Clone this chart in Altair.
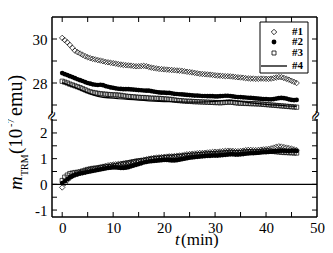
import altair as alt
import pandas as pd

FONT = "Liberation Serif"

# time grid (min)
T_HALF = [0, 0.5, 1, 1.5, 2, 2.5, 3, 3.5, 4, 4.5,
          5, 5.5, 6, 6.5, 7, 7.5, 8, 8.5, 9, 9.5,
          10, 10.5, 11, 11.5, 12, 12.5, 13, 13.5, 14, 14.5,
          15, 15.5, 16, 16.5, 17, 17.5, 18, 18.5, 19, 19.5,
          20, 20.5, 21, 21.5, 22, 22.5, 23, 23.5, 24, 24.5,
          25, 25.5, 26, 26.5, 27, 27.5, 28, 28.5, 29, 29.5,
          30, 30.5, 31, 31.5, 32, 32.5, 33, 33.5, 34, 34.5,
          35, 35.5, 36, 36.5, 37, 37.5, 38, 38.5, 39, 39.5,
          40, 40.5, 41, 41.5, 42, 42.5, 43, 43.5, 44, 44.5,
          45, 45.5, 46]
T_FULL = [0, 1, 2, 3, 4, 5, 6, 7, 8, 9, 10, 11, 12, 13, 14, 15, 16, 17, 18, 19,
          20, 21, 22, 23, 24, 25, 26, 27, 28, 29, 30, 31, 32, 33, 34, 35, 36, 37,
          38, 39, 40, 41, 42, 43, 44, 45, 46]

# upper branch (1e-7 emu)
U1 = [30.05, 29.95, 29.85, 29.73, 29.60, 29.47, 29.40, 29.34, 29.28, 29.22,
      29.17, 29.13, 29.10, 29.07, 29.04, 29.02, 28.99, 28.96, 28.94, 28.92,
      28.90, 28.88, 28.86, 28.84, 28.82, 28.81, 28.80, 28.79, 28.77, 28.76,
      28.76, 28.77, 28.78, 28.76, 28.73, 28.70, 28.68, 28.66, 28.64, 28.63,
      28.62, 28.61, 28.60, 28.59, 28.58, 28.57, 28.56, 28.55, 28.53, 28.51,
      28.50, 28.48, 28.46, 28.44, 28.42, 28.41, 28.40, 28.39, 28.38, 28.37,
      28.35, 28.34, 28.33, 28.32, 28.31, 28.31, 28.30, 28.29, 28.27, 28.26,
      28.25, 28.24, 28.22, 28.21, 28.20, 28.20, 28.19, 28.19, 28.20, 28.20,
      28.19, 28.19, 28.20, 28.22, 28.25, 28.27, 28.26, 28.23, 28.19, 28.15,
      28.10, 28.05, 28.00]
U2 = [28.45, 28.40, 28.36, 28.31, 28.27, 28.22, 28.17, 28.13, 28.09, 28.04,
      28.00, 27.97, 27.94, 27.92, 27.91, 27.92, 27.90, 27.86, 27.83, 27.80,
      27.78, 27.76, 27.74, 27.73, 27.72, 27.72, 27.72, 27.71, 27.70, 27.69,
      27.68, 27.67, 27.66, 27.65, 27.65, 27.63, 27.61, 27.59, 27.57, 27.56,
      27.56, 27.55, 27.55, 27.53, 27.51, 27.50, 27.49, 27.48, 27.47, 27.46,
      27.45, 27.44, 27.43, 27.43, 27.42, 27.41, 27.41, 27.40, 27.40, 27.40,
      27.39, 27.39, 27.40, 27.41, 27.42, 27.42, 27.41, 27.39, 27.37, 27.36,
      27.36, 27.35, 27.34, 27.33, 27.32, 27.31, 27.30, 27.29, 27.28, 27.27,
      27.27, 27.26, 27.26, 27.27, 27.29, 27.31, 27.32, 27.31, 27.29, 27.26,
      27.23, 27.22, 27.23]
U3 = [28.08, 28.04, 28.00, 27.95, 27.91, 27.87, 27.83, 27.79, 27.74, 27.69,
      27.64, 27.60, 27.57, 27.55, 27.53, 27.51, 27.50, 27.49, 27.48, 27.47,
      27.46, 27.46, 27.45, 27.44, 27.42, 27.40, 27.39, 27.38, 27.37, 27.36,
      27.35, 27.34, 27.34, 27.33, 27.32, 27.31, 27.31, 27.30, 27.30, 27.29,
      27.28, 27.27, 27.26, 27.25, 27.23, 27.21, 27.20, 27.19, 27.18, 27.17,
      27.17, 27.16, 27.15, 27.15, 27.14, 27.14, 27.13, 27.13, 27.12, 27.12,
      27.11, 27.11, 27.10, 27.11, 27.12, 27.13, 27.13, 27.12, 27.10, 27.09,
      27.08, 27.08, 27.07, 27.07, 27.06, 27.06, 27.05, 27.05, 27.04, 27.03,
      27.02, 27.01, 27.00, 26.99, 26.98, 26.97, 26.96, 26.95, 26.94, 26.93,
      26.92, 26.91, 26.90]
U4 = [28.02, 27.93, 27.84, 27.74, 27.64, 27.55, 27.46, 27.39, 27.35, 27.33,
      27.31, 27.29, 27.28, 27.26, 27.24, 27.22, 27.21, 27.19, 27.18, 27.17,
      27.16, 27.15, 27.14, 27.14, 27.13, 27.13, 27.13, 27.13, 27.14, 27.15,
      27.17, 27.19, 27.20, 27.21, 27.19, 27.16, 27.13, 27.10, 27.07, 27.05,
      27.03, 27.01, 27.00, 26.98, 26.96, 26.95, 26.94]

# lower branch
L1 = [-0.12, 0.04, 0.16, 0.26, 0.33, 0.38, 0.42, 0.45, 0.48, 0.52,
      0.55, 0.57, 0.59, 0.61, 0.63, 0.66, 0.69, 0.72, 0.74, 0.76,
      0.77, 0.78, 0.79, 0.80, 0.81, 0.82, 0.83, 0.85, 0.87, 0.89,
      0.91, 0.93, 0.95, 0.97, 0.99, 1.01, 1.03, 1.04, 1.05, 1.06,
      1.07, 1.08, 1.09, 1.09, 1.10, 1.11, 1.12, 1.13, 1.15, 1.17,
      1.18, 1.19, 1.20, 1.21, 1.22, 1.22, 1.23, 1.24, 1.25, 1.26,
      1.27, 1.27, 1.28, 1.29, 1.30, 1.31, 1.31, 1.30, 1.29, 1.29,
      1.30, 1.31, 1.33, 1.34, 1.34, 1.33, 1.33, 1.34, 1.35, 1.36,
      1.37, 1.38, 1.40, 1.43, 1.46, 1.48, 1.47, 1.45, 1.43, 1.41,
      1.39, 1.36, 1.33]
L2 = [0.05, 0.12, 0.20, 0.27, 0.32, 0.36, 0.39, 0.42, 0.44, 0.46,
      0.48, 0.50, 0.52, 0.54, 0.56, 0.58, 0.60, 0.62, 0.64, 0.65,
      0.66, 0.66, 0.65, 0.64, 0.64, 0.65, 0.67, 0.70, 0.73, 0.76,
      0.79, 0.82, 0.85, 0.87, 0.89, 0.90, 0.91, 0.92, 0.93, 0.94,
      0.95, 0.95, 0.94, 0.93, 0.93, 0.94, 0.96, 0.98, 1.00, 1.02,
      1.04, 1.05, 1.06, 1.07, 1.08, 1.09, 1.10, 1.11, 1.11, 1.12,
      1.12, 1.12, 1.13, 1.14, 1.15, 1.16, 1.17, 1.17, 1.16, 1.16,
      1.17, 1.18, 1.19, 1.20, 1.21, 1.21, 1.22, 1.23, 1.24, 1.25,
      1.25, 1.26, 1.27, 1.28, 1.29, 1.30, 1.31, 1.31, 1.30, 1.30,
      1.31, 1.31, 1.30]
L3 = [0.15, 0.28, 0.36, 0.42, 0.44, 0.46, 0.47, 0.49, 0.52, 0.55,
      0.58, 0.60, 0.62, 0.63, 0.64, 0.66, 0.67, 0.68, 0.69, 0.70,
      0.71, 0.73, 0.75, 0.78, 0.80, 0.82, 0.84, 0.86, 0.88, 0.90,
      0.91, 0.92, 0.93, 0.95, 0.97, 0.99, 1.00, 1.01, 1.02, 1.03,
      1.04, 1.05, 1.06, 1.06, 1.07, 1.08, 1.09, 1.10, 1.11, 1.12,
      1.13, 1.14, 1.14, 1.15, 1.16, 1.17, 1.18, 1.18, 1.19, 1.19,
      1.20, 1.21, 1.21, 1.22, 1.23, 1.24, 1.25, 1.24, 1.23, 1.23,
      1.24, 1.25, 1.26, 1.27, 1.27, 1.26, 1.26, 1.27, 1.28, 1.29,
      1.30, 1.30, 1.29, 1.28, 1.27, 1.26, 1.25, 1.24, 1.24, 1.23,
      1.23, 1.22, 1.22]
L4 = [0.10, 0.22, 0.31, 0.38, 0.43, 0.47, 0.51, 0.55, 0.59, 0.62,
      0.65, 0.67, 0.68, 0.70, 0.74, 0.79, 0.84, 0.88, 0.90, 0.92,
      0.94, 0.95, 0.96, 0.98, 1.00, 1.02, 1.04, 1.06, 1.08, 1.10,
      1.11, 1.12, 1.13, 1.14, 1.15, 1.16, 1.17, 1.18, 1.19, 1.21,
      1.23, 1.25, 1.27, 1.29, 1.30, 1.31, 1.32]

LEGEND = ["#1", "#2", "#3", "#4"]
X_LABELS = [0, 10, 20, 30, 40, 50]
X_TICKS = [0, 5, 10, 15, 20, 25, 30, 35, 40, 45]
YU_LABELS = [28, 30]
YU_TICKS = [27, 28, 29, 30]
YL_LABELS = [-1, 0, 1, 2]
YL_TICKS = [-1, -0.5, 0, 0.5, 1, 1.5, 2, 2.5]

W, HU, HL = 265, 99, 101
H = HU + HL

xs = alt.Scale(domain=[-2, 50], nice=False, zero=False)
us = alt.Scale(domain=[26.5, 31], range=[HU, 0], nice=False, zero=False)
ls = alt.Scale(domain=[-1.27, 2.66], range=[H, HU], nice=False, zero=False)

LAB = dict(labelFont=FONT, labelFontSize=15, labelColor="black", grid=False,
           ticks=False, domain=False, title=None, labelOverlap=False)
XAX = alt.Axis(values=X_LABELS, labelPadding=3, labelFlush=False,
               labelExpr="toString(datum.value)", **LAB)
UAX = alt.Axis(orient="left", values=YU_LABELS, labelPadding=5,
               labelExpr="toString(datum.value)", **LAB)
LAX = alt.Axis(orient="left", values=YL_LABELS, labelPadding=5,
               labelExpr="toString(datum.value)", **LAB)

ONE = pd.DataFrame({"a": [0]})


def X(f):
    return alt.X(f + ":Q", scale=xs, axis=XAX)


def series(t, v, scale, ax, kind, size=20, filled=False):
    d = pd.DataFrame({"t": t, "v": v})
    if kind == "line":
        m = alt.Chart(d).mark_line(color="black", strokeWidth=1.3)
    else:
        m = alt.Chart(d).mark_point(shape=kind, filled=filled, size=size,
                                    color="black", strokeWidth=0.7, opacity=1)
    return m.encode(x=X("t"), y=alt.Y("v:Q", scale=scale, axis=ax))


def yticks(vals, scale, ax):
    d = pd.DataFrame({"v": vals})
    base = alt.Chart(d).mark_rule(color="black", strokeWidth=1)
    return [base.encode(y=alt.Y("v:Q", scale=scale, axis=ax), x=alt.value(0), x2=alt.value(5)),
            base.encode(y=alt.Y("v:Q", scale=scale, axis=ax), x=alt.value(W - 5), x2=alt.value(W))]


def xticks(vals, y0, y1):
    d = pd.DataFrame({"v": vals})
    return alt.Chart(d).mark_rule(color="black", strokeWidth=1).encode(
        x=X("v"), y=alt.value(y0), y2=alt.value(y1))


def txt(s, x, y, size, angle=0, style="normal", weight="normal", align="left",
        baseline="alphabetic", font=FONT):
    return alt.Chart(ONE).mark_text(text=s, font=font, fontSize=size, angle=angle,
                                    fontStyle=style, fontWeight=weight, align=align,
                                    baseline=baseline, color="black").encode(
        x=alt.value(x), y=alt.value(y))


# ---------- upper panel ----------
leg_box = alt.Chart(ONE).mark_rect(fill="white", stroke="black", strokeWidth=1).encode(
    x=alt.value(208), x2=alt.value(256), y=alt.value(5), y2=alt.value(56))
leg_items = [
    alt.Chart(ONE).mark_point(shape="diamond", filled=False, size=30, color="black",
                              strokeWidth=0.8, opacity=1).encode(x=alt.value(222), y=alt.value(15)),
    alt.Chart(ONE).mark_point(shape="circle", filled=True, size=24, color="black",
                              opacity=1).encode(x=alt.value(222), y=alt.value(25)),
    alt.Chart(ONE).mark_point(shape="square", filled=False, size=16, color="black",
                              strokeWidth=0.8, opacity=1).encode(x=alt.value(222), y=alt.value(36)),
    alt.Chart(ONE).mark_rule(color="black", strokeWidth=1.3).encode(
        x=alt.value(209), x2=alt.value(235), y=alt.value(49)),
]
leg_txt = [txt(LEGEND[i], 240, yy, 11, weight="bold", baseline="middle")
           for i, yy in enumerate([15, 25, 36, 49])]

upper = alt.layer(
    *yticks(YU_TICKS, us, UAX),
    xticks(X_TICKS, 0, 5),
    series(T_FULL, U4, us, UAX, "line"),
    series(T_HALF, U3, us, UAX, "square", size=18),
    series(T_HALF, U2, us, UAX, "circle", size=22, filled=True),
    series(T_HALF, U1, us, UAX, "diamond", size=30),
    leg_box, *leg_items, *leg_txt,
)

# ---------- lower panel ----------
zero = alt.Chart(pd.DataFrame({"v": [0]})).mark_rule(color="black", strokeWidth=1.2).encode(
    y=alt.Y("v:Q", scale=ls, axis=LAX), x=alt.value(0), x2=alt.value(W))

frame = [
    alt.Chart(ONE).mark_rule(color="black", strokeWidth=1.5).encode(
        x=alt.value(0), y=alt.value(0), y2=alt.value(H)),
    alt.Chart(ONE).mark_rule(color="black", strokeWidth=1.5).encode(
        x=alt.value(W), y=alt.value(0), y2=alt.value(H)),
    alt.Chart(ONE).mark_rule(color="black", strokeWidth=1.5).encode(
        x=alt.value(0), x2=alt.value(W), y=alt.value(0)),
    alt.Chart(ONE).mark_rule(color="black", strokeWidth=1.5).encode(
        x=alt.value(0), x2=alt.value(W), y=alt.value(H)),
]
gaps = [alt.Chart(ONE).mark_rect(fill="white").encode(
    x=alt.value(xx - 3), x2=alt.value(xx + 3), y=alt.value(HU - 3), y2=alt.value(HU + 3))
    for xx in (0, W)]
breaks = [txt("\u2248", xx, HU, 14, angle=300, align="center", baseline="middle",
              font="DejaVu Sans") for xx in (0, W - 1)]

titles = [
    txt("m", -30, 173, 19, angle=270, style="italic"),
    txt("TRM", -24.5, 159, 10, angle=270),
    txt("(10", -30, 137, 19, angle=270),
    txt("-7", -38, 110, 10, angle=270),
    txt("emu)", -30, 99, 20, angle=270),
    txt("t", 123, 228, 17, style="italic"),
    txt("(min)", 129, 228, 17),
]

lower = alt.layer(
    *yticks(YL_TICKS, ls, LAX),
    xticks(X_TICKS, H - 5, H),
    zero,
    series(T_FULL, L4, ls, LAX, "line"),
    series(T_HALF, L2, ls, LAX, "circle", size=22, filled=True),
    series(T_HALF, L1, ls, LAX, "diamond", size=30),
    series(T_HALF, L3, ls, LAX, "square", size=18),
    *frame, *gaps, *breaks, *titles,
)

chart = alt.layer(upper, lower).resolve_scale(y="independent").properties(
    width=W, height=H,
    autosize=alt.AutoSizeParams(type="none"),
    padding={"left": 44, "top": 9, "right": 8, "bottom": 31},
).configure_view(stroke=None)

chart.save("out.html", embed_options={"renderer": "svg", "actions": False})
